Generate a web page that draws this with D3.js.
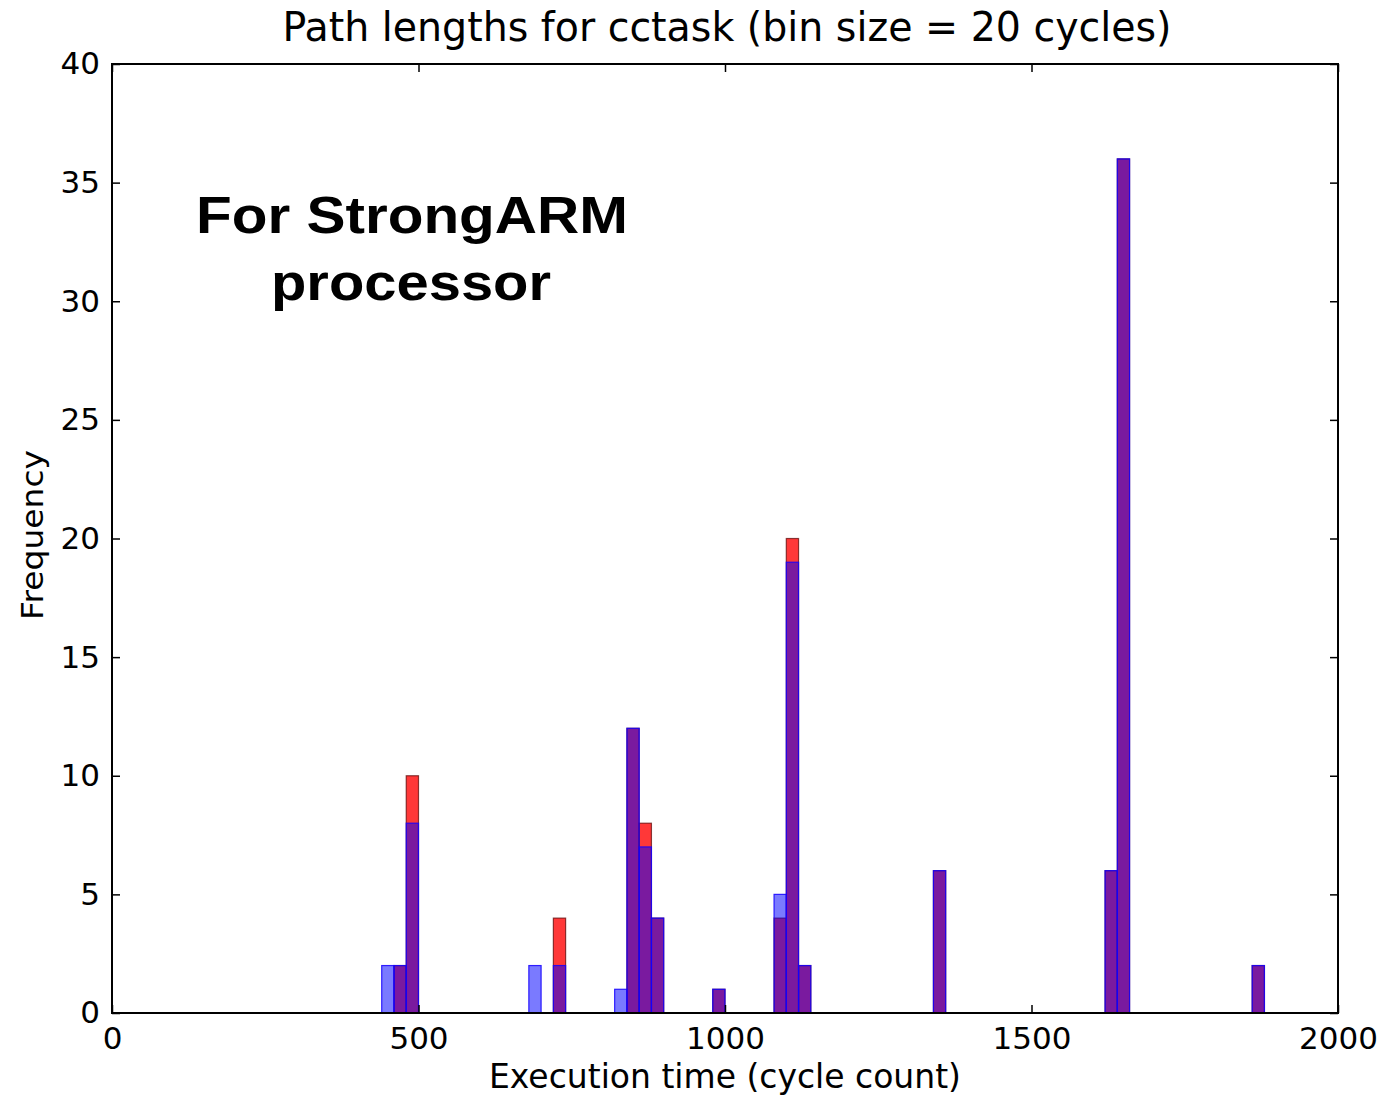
<!DOCTYPE html>
<html>
<head>
<meta charset="utf-8">
<script src="https://cdn.jsdelivr.net/npm/d3@7"></script>
<style>
  body { margin: 0; background: #fff; }
  text { font-family: "DejaVu Sans", sans-serif; fill: #000; }
</style>
</head>
<body>
<svg id="chart"></svg>
<script>
var width = 1387,
    height = 1097,
    margin = {top: 64, right: 49, bottom: 84, left: 112},
    binSize = 20;

// left edge of each 20-cycle bin (cycles)
var binStarts = [440, 460, 480, 680, 720, 820, 840, 860, 880, 980, 1080, 1100, 1120, 1340, 1620, 1640, 1860];
// red histogram (drawn first)
var redCounts = [0, 2, 10, 0, 4, 0, 12, 8, 4, 1, 4, 20, 2, 6, 6, 36, 2];
// blue histogram (drawn on top, translucent)
var blueCounts = [2, 2, 8, 2, 2, 1, 12, 7, 4, 1, 5, 19, 2, 6, 6, 36, 2];

var xTicks = [0, 500, 1000, 1500, 2000],
    yTicks = [0, 5, 10, 15, 20, 25, 30, 35, 40];

var svg = d3.select("#chart").attr("width", width).attr("height", height);
svg.append("rect").attr("width", width).attr("height", height).attr("fill", "#fff");

var w = width - margin.left - margin.right,
    h = height - margin.top - margin.bottom;

var x = d3.scaleLinear().domain([0, 2000]).range([0, w]),
    y = d3.scaleLinear().domain([0, 40]).range([h, 0]);

var g = svg.append("g").attr("transform", "translate(" + margin.left + "," + margin.top + ")");

function drawSeries(counts, fill, stroke) {
  g.append("g").selectAll("rect")
    .data(binStarts.map(function(s, i) { return {start: s, count: counts[i]}; })
      .filter(function(d) { return d.count > 0; }))
    .enter().append("rect")
    .attr("x", function(d) { return x(d.start); })
    .attr("y", function(d) { return y(d.count); })
    .attr("width", function(d) { return x(d.start + binSize) - x(d.start); })
    .attr("height", function(d) { return y(0) - y(d.count); })
    .attr("fill", fill)
    .attr("stroke", stroke)
    .attr("stroke-width", 1.2);
}

drawSeries(redCounts, "rgba(255,0,0,0.78)", "rgba(90,0,0,0.7)");
drawSeries(blueCounts, "rgba(0,0,255,0.52)", "rgba(20,0,255,0.85)");

// axes: inward ticks on all four sides, labels only bottom/left
var tickLen = 8;
g.append("g").attr("transform", "translate(0," + h + ")")
  .call(d3.axisBottom(x).tickValues(xTicks).tickFormat(d3.format("d"))
    .tickSizeInner(-tickLen).tickSizeOuter(0).tickPadding(14));
g.append("g")
  .call(d3.axisLeft(y).tickValues(yTicks).tickFormat(d3.format("d"))
    .tickSizeInner(-tickLen).tickSizeOuter(0).tickPadding(12));
g.append("g")
  .call(d3.axisTop(x).tickValues(xTicks).tickSizeInner(-tickLen).tickSizeOuter(0).tickFormat(""));
g.append("g").attr("transform", "translate(" + w + ",0)")
  .call(d3.axisRight(y).tickValues(yTicks).tickSizeInner(-tickLen).tickSizeOuter(0).tickFormat(""));

g.selectAll(".domain").remove();
g.selectAll(".tick line").attr("stroke", "#000").attr("stroke-width", 1.5);
g.selectAll(".tick text").style("font-size", "31px").style("font-family", "DejaVu Sans");

g.append("rect").attr("width", w).attr("height", h)
  .attr("fill", "none").attr("stroke", "#000").attr("stroke-width", 2);

// title and labels
svg.append("text")
  .attr("x", 727).attr("y", 41)
  .attr("text-anchor", "middle")
  .attr("textLength", 889).attr("lengthAdjust", "spacingAndGlyphs")
  .style("font-size", "40px")
  .text("Path lengths for cctask (bin size = 20 cycles)");

svg.append("text")
  .attr("x", margin.left + w / 2).attr("y", 1088)
  .attr("text-anchor", "middle")
  .attr("textLength", 472).attr("lengthAdjust", "spacingAndGlyphs")
  .style("font-size", "33px")
  .text("Execution time (cycle count)");

svg.append("text")
  .attr("transform", "translate(43,535) rotate(-90)")
  .attr("text-anchor", "middle")
  .attr("textLength", 170).attr("lengthAdjust", "spacingAndGlyphs")
  .style("font-size", "31px")
  .text("Frequency");

// annotation
var note = svg.append("g").style("font-weight", "bold");
note.append("text").attr("x", 412).attr("y", 233).attr("text-anchor", "middle")
  .style("font-family", "Arial, 'Liberation Sans', sans-serif")
  .attr("textLength", 432).attr("lengthAdjust", "spacingAndGlyphs")
  .style("font-size", "52px").text("For StrongARM");
note.append("text").attr("x", 411).attr("y", 300).attr("text-anchor", "middle")
  .style("font-family", "Arial, 'Liberation Sans', sans-serif")
  .attr("textLength", 280).attr("lengthAdjust", "spacingAndGlyphs")
  .style("font-size", "52px").text("processor");
</script>
</body>
</html>
